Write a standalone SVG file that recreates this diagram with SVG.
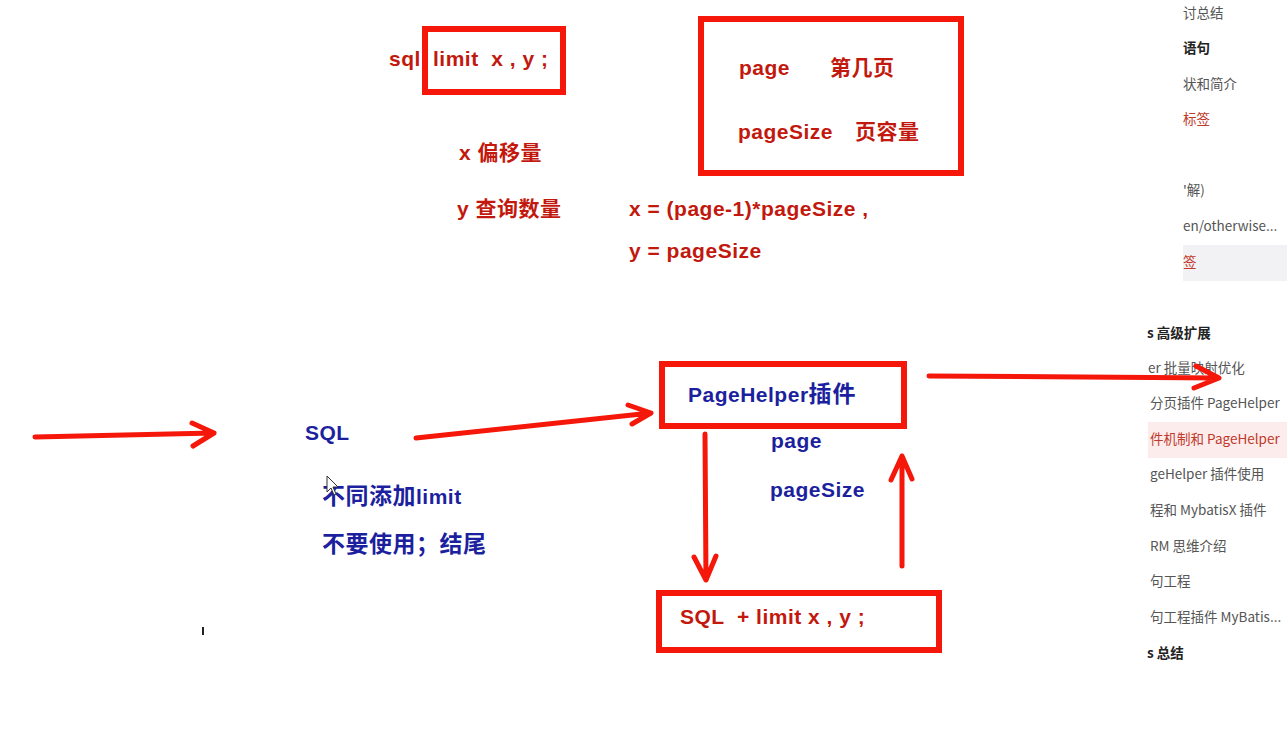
<svg xmlns="http://www.w3.org/2000/svg" width="1287" height="745" viewBox="0 0 1287 745">
<defs>
<style>
.bg{fill:#ffffff}
.box{fill:#ffffff;stroke:#f5180a;stroke-width:6}
.ln{fill:none;stroke:#f5180a;stroke-width:5;stroke-linecap:round;stroke-linejoin:round}
.rt{font-family:"Liberation Sans","Noto Sans CJK SC",sans-serif;font-weight:bold;font-size:21px;letter-spacing:0.5px;fill:#c2180e}
.bt{font-family:"Liberation Sans","Noto Sans CJK SC",sans-serif;font-weight:bold;font-size:21px;letter-spacing:0.5px;fill:#1c1f9e}
.cj{font-size:23px}
.sb{font-family:"Noto Sans CJK SC","Liberation Sans",sans-serif;font-size:13.5px;fill:#555555}
.sbb{font-family:"Noto Sans CJK SC","Liberation Sans",sans-serif;font-size:13.5px;font-weight:bold;fill:#222222}
.sbr{font-family:"Noto Sans CJK SC","Liberation Sans",sans-serif;font-size:13.5px;fill:#c0392b}
</style>
</defs>
<rect class="bg" x="0" y="0" width="1287" height="745"/>

<g id="sidebar">
<rect x="1183" y="245" width="104" height="36" fill="#f2f2f4"/>
<rect x="1148" y="422" width="139" height="36" fill="#fdecec"/>
<text class="sb" x="1183" y="18">讨总结</text>
<text class="sbb" x="1183" y="53">语句</text>
<text class="sb" x="1183" y="89">状和简介</text>
<text class="sbr" x="1183" y="124">标签</text>
<text class="sb" x="1183" y="195">'解)</text>
<text class="sb" x="1183" y="231">en/otherwise...</text>
<text class="sbr" x="1183" y="267">签</text>
<text class="sbb" x="1147" y="338">s 高级扩展</text>
<text class="sb" x="1148" y="373">er 批量映射优化</text>
<text class="sb" x="1150" y="408">分页插件 PageHelper</text>
<text class="sbr" x="1150" y="444">件机制和 PageHelper</text>
<text class="sb" x="1150" y="479">geHelper 插件使用</text>
<text class="sb" x="1150" y="515">程和 MybatisX 插件</text>
<text class="sb" x="1150" y="551">RM 思维介绍</text>
<text class="sb" x="1150" y="586">句工程</text>
<text class="sb" x="1150" y="622">句工程插件 MyBatis...</text>
<text class="sbb" x="1147" y="658">s 总结</text>
</g>

<g id="node-limit">
<rect class="box" x="425" y="29" width="138" height="63"/>
<text class="rt" x="389" y="66">sql</text>
<text class="rt" x="433" y="66" xml:space="preserve">limit  x , y ;</text>
</g>

<g id="node-page">
<rect class="box" x="701" y="19" width="260" height="154"/>
<text class="rt" x="739" y="75">page</text>
<text class="rt" x="830" y="75" letter-spacing="4">第几页</text>
<text class="rt" x="738" y="139">pageSize</text>
<text class="rt" x="855" y="139" letter-spacing="4">页容量</text>
</g>

<g id="notes">
<text class="rt" x="459" y="160" letter-spacing="2">x 偏移量</text>
<text class="rt" x="457" y="216" letter-spacing="2.5">y 查询数量</text>
<text class="rt" x="629" y="216">x = (page-1)*pageSize ,</text>
<text class="rt" x="629" y="258">y = pageSize</text>
</g>

<g id="node-sql">
<text class="bt" x="305" y="440">SQL</text>
<text class="bt" x="322" y="504"><tspan class="cj">不同添加</tspan>limit</text>
<text class="bt cj" x="322" y="552">不要使用；结尾</text>
</g>

<g id="node-pagehelper">
<rect class="box" x="662" y="364" width="242" height="62"/>
<text class="bt" x="688" y="402">PageHelper<tspan class="cj" letter-spacing="1">插件</tspan></text>
<text class="bt" x="771" y="448">page</text>
<text class="bt" x="770" y="497">pageSize</text>
</g>

<g id="node-sqllimit">
<rect class="box" x="659" y="593" width="280" height="57"/>
<text class="rt" x="680" y="624" xml:space="preserve">SQL  + limit x , y ;</text>
</g>

<g id="connectors">
<path class="ln" d="M35 437 L214 433 M192 423 L214 433 L193 446"/>
<path class="ln" d="M416 438 L651 413 M628 405 L651 413 L632 424"/>
<path class="ln" d="M929 376 L1219 378 M1196 366 L1219 378 L1194 388"/>
<path class="ln" d="M705 434 L706 580 M694 557 L706 580 L716 556"/>
<path class="ln" d="M902 566 L902 456 M891 480 L902 456 L912 479"/>
</g>

<g id="cursor">
<path d="M327 476 L327 492 L331 488 L334 495 L336 494 L333 487 L338 487 Z" fill="#ffffff" stroke="#333333" stroke-width="1"/>
<rect x="202" y="627" width="2" height="8" fill="#222222"/>
</g>
</svg>
